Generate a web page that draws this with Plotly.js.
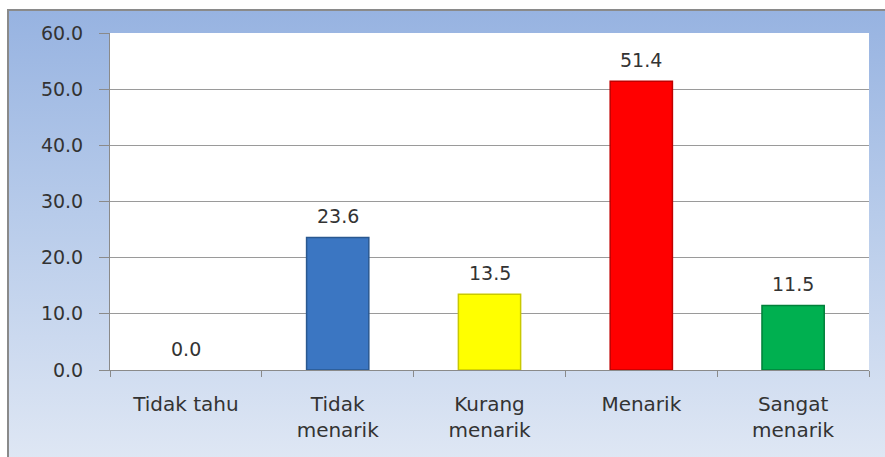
<!DOCTYPE html>
<html><head><meta charset="utf-8">
<script src="https://cdn.plot.ly/plotly-3.0.1.min.js"></script>
<style>
html,body{margin:0;padding:0;width:885px;height:457px;overflow:hidden;background:#fff;}
#frame{position:absolute;left:7px;top:9px;width:880px;height:450px;border-top:2px solid #8a8a8a;border-left:2px solid #8a8a8a;background:linear-gradient(to bottom,#97b3e1 0%,#b7cbea 45%,#dfe7f4 100%);}
#chart{position:absolute;left:0;top:0;width:885px;height:457px;}
</style></head>
<body>
<div id="frame"></div>
<div id="chart"></div>
<script>
const categories = ["Tidak tahu", "Tidak<br>menarik", "Kurang<br>menarik", "Menarik", "Sangat<br>menarik"];
const values = [0.0, 23.6, 13.5, 51.4, 11.5];
const barColors = ["#3b76c2", "#3b76c2", "#ffff00", "#ff0000", "#00b050"];
const barEdges = ["#2a5890", "#2a5890", "#c9c900", "#c00000", "#00803a"];
const yTicks = [0, 10, 20, 30, 40, 50, 60];
const yTickLabels = ["0.0", "10.0", "20.0", "30.0", "40.0", "50.0", "60.0"];

const FONT = "DejaVu Sans, Verdana, sans-serif";

const trace = {
  type: "bar",
  x: categories,
  y: values,
  width: 0.41,
  marker: {color: barColors, line: {color: barEdges, width: values.map(v => v > 0 ? 1.5 : 0)}},
  hoverinfo: "skip"
};

const annotations = categories.map((c, i) => ({
  x: c, y: values[i], xref: "x", yref: "y",
  text: values[i].toFixed(1), showarrow: false,
  yanchor: "bottom", yshift: 8,
  font: {family: FONT, size: 19, color: "#333"}
}));

const layout = {
  width: 885, height: 457,
  margin: {l: 110, r: 16, t: 33, b: 87},
  paper_bgcolor: "rgba(0,0,0,0)",
  plot_bgcolor: "#ffffff",
  showlegend: false,
  bargap: 0.59,
  xaxis: {
    type: "category",
    tickson: "boundaries",
    ticks: "outside", ticklen: 6, tickcolor: "#8a8a8a", tickwidth: 1,
    showline: true, linecolor: "#8a8a8a", linewidth: 1,
    showgrid: false,
    ticklabelstandoff: 16,
    tickfont: {family: FONT, size: 20, color: "#333"},
    fixedrange: true
  },
  yaxis: {
    range: [0, 60],
    tickvals: yTicks, ticktext: yTickLabels,
    ticks: "outside", ticklen: 10, tickcolor: "#8a8a8a", tickwidth: 1,
    showline: true, linecolor: "#8a8a8a", linewidth: 1,
    showgrid: true, gridcolor: "#9a9a9a", gridwidth: 1,
    zeroline: false,
    ticklabelstandoff: 12,
    tickfont: {family: FONT, size: 19, color: "#333"},
    fixedrange: true
  },
  annotations: annotations
};

Plotly.newPlot("chart", [trace], layout, {displayModeBar: false, staticPlot: true});
</script>
</body></html>
